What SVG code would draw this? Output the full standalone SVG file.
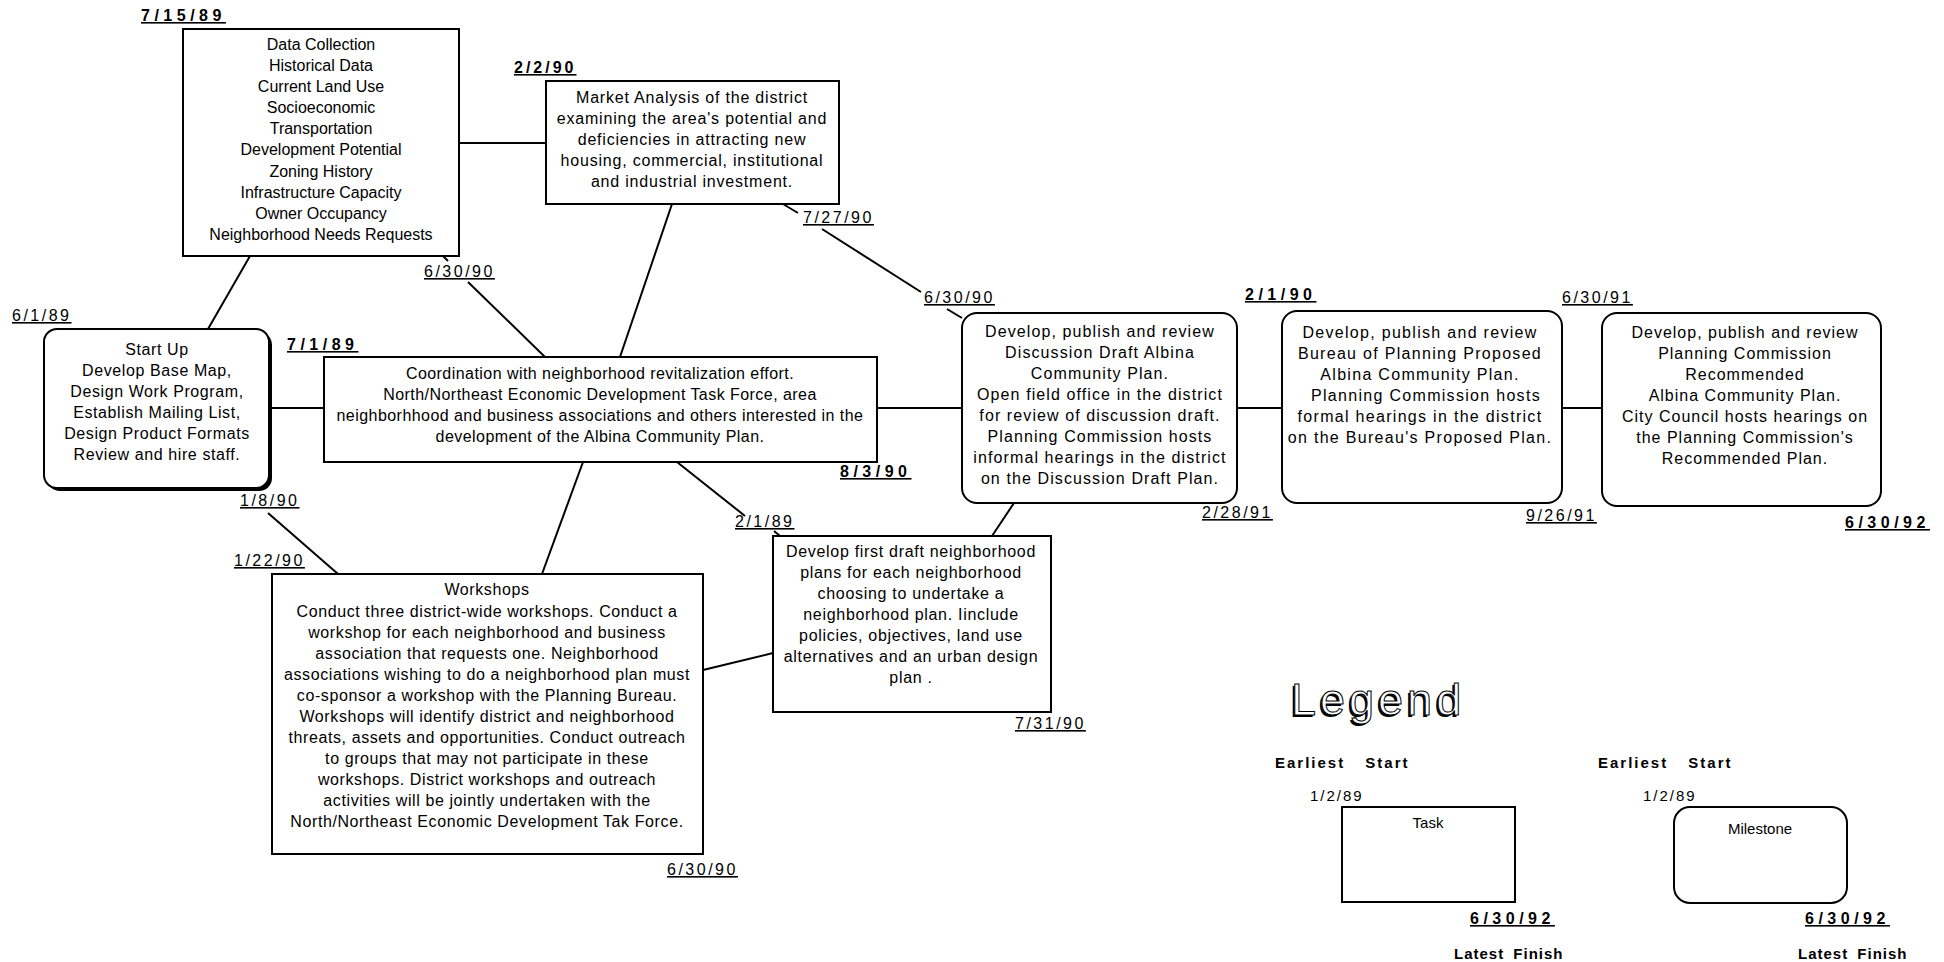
<svg xmlns="http://www.w3.org/2000/svg" width="1944" height="962" viewBox="0 0 1944 962">
<style>
.bg{fill:#fff}
.box{fill:#fff;stroke:#000;stroke-width:2}
.sh{fill:#000}
.c{stroke:#000;stroke-width:2;fill:none}
text{font-family:"Liberation Sans",Arial,Helvetica,sans-serif;fill:#000}
.t{font-size:16px;text-anchor:middle}
.d{font-size:16px;text-decoration:underline;letter-spacing:2.5px}
.db{font-size:16px;font-weight:bold;text-decoration:underline;letter-spacing:4.5px}
.lb{font-size:15px;font-weight:bold;letter-spacing:2px;word-spacing:14px}
</style>
<rect class="bg" width="1944" height="962"/>
<g id="connectors">
<line class="c" x1="459" y1="143" x2="546" y2="143"/>
<line class="c" x1="250" y1="256" x2="208" y2="329"/>
<line class="c" x1="443" y1="256" x2="448" y2="261"/>
<line class="c" x1="468" y1="282" x2="545" y2="357"/>
<line class="c" x1="672" y1="204" x2="620" y2="357"/>
<line class="c" x1="783" y1="204" x2="798" y2="213"/>
<line class="c" x1="822" y1="229" x2="921" y2="292"/>
<line class="c" x1="947" y1="309" x2="962" y2="318"/>
<line class="c" x1="269" y1="408" x2="324" y2="408"/>
<line class="c" x1="877" y1="408" x2="962" y2="408"/>
<line class="c" x1="1237" y1="408" x2="1282" y2="408"/>
<line class="c" x1="1562" y1="408" x2="1602" y2="408"/>
<line class="c" x1="268" y1="513" x2="338" y2="574"/>
<line class="c" x1="583" y1="462" x2="542" y2="574"/>
<line class="c" x1="677" y1="462" x2="745" y2="516"/>
<line class="c" x1="774" y1="531" x2="780" y2="536"/>
<line class="c" x1="703" y1="670" x2="773" y2="653"/>
<line class="c" x1="1014" y1="503" x2="992" y2="536"/>
</g>
<g id="data-collection">
<rect class="box" x="183" y="29" width="276" height="227"/>
<text class="t"><tspan x="321" y="50">Data Collection</tspan><tspan x="321" y="71">Historical Data</tspan><tspan x="321" y="92">Current Land Use</tspan><tspan x="321" y="113">Socioeconomic</tspan><tspan x="321" y="134">Transportation</tspan><tspan x="321" y="155">Development Potential</tspan><tspan x="321" y="177">Zoning History</tspan><tspan x="321" y="198">Infrastructure Capacity</tspan><tspan x="321" y="219">Owner Occupancy</tspan><tspan x="321" y="240">Neighborhood Needs Requests</tspan></text>
<text class="db" x="141" y="21">7/15/89</text>
<text class="d" x="424" y="277">6/30/90</text>
</g>
<g id="market-analysis">
<rect class="box" x="546" y="81" width="293" height="123"/>
<text class="t" style="letter-spacing:0.8px"><tspan x="692" y="103">Market Analysis of the district</tspan><tspan x="692" y="124">examining the area's potential and</tspan><tspan x="692" y="145">deficiencies in attracting new</tspan><tspan x="692" y="166">housing, commercial, institutional</tspan><tspan x="692" y="187">and industrial investment.</tspan></text>
<text class="db" x="514" y="73" style="letter-spacing:3px">2/2/90</text>
<text class="d" x="803" y="223">7/27/90</text>
</g>
<g id="start-up">
<rect class="sh" x="47" y="332" width="225" height="159" rx="13"/>
<rect class="box" x="44" y="329" width="225" height="159" rx="13"/>
<text class="t" style="letter-spacing:0.6px"><tspan x="157" y="355">Start Up</tspan><tspan x="157" y="376">Develop Base Map,</tspan><tspan x="157" y="397">Design Work Program,</tspan><tspan x="157" y="418">Establish Mailing List,</tspan><tspan x="157" y="439">Design Product Formats</tspan><tspan x="157" y="460">Review and hire staff.</tspan></text>
<text class="d" x="12" y="321">6/1/89</text>
<text class="d" x="240" y="506">1/8/90</text>
</g>
<g id="coordination">
<rect class="box" x="324" y="357" width="553" height="105"/>
<text class="t" style="letter-spacing:0.45px"><tspan x="600" y="379">Coordination with neighborhood revitalization effort.</tspan><tspan x="600" y="400">North/Northeast Economic Development Task Force, area</tspan><tspan x="600" y="421">neighborhhood and business associations and others interested in the</tspan><tspan x="600" y="442">development of the Albina Community Plan.</tspan></text>
<text class="db" x="287" y="350">7/1/89</text>
<text class="db" x="840" y="477">8/3/90</text>
</g>
<g id="discussion-draft">
<rect class="box" x="962" y="313" width="275" height="190" rx="15"/>
<text class="t" style="letter-spacing:1.1px"><tspan x="1100" y="337">Develop, publish and review</tspan><tspan x="1100" y="358">Discussion Draft Albina</tspan><tspan x="1100" y="379">Community Plan.</tspan><tspan x="1100" y="400">Open field office in the district</tspan><tspan x="1100" y="421">for review of discussion draft.</tspan><tspan x="1100" y="442">Planning Commission hosts</tspan><tspan x="1100" y="463">informal hearings in the district</tspan><tspan x="1100" y="484">on the Discussion Draft Plan.</tspan></text>
<text class="d" x="924" y="303">6/30/90</text>
<text class="d" x="1202" y="518">2/28/91</text>
</g>
<g id="bureau-proposed">
<rect class="box" x="1282" y="311" width="280" height="192" rx="15"/>
<text class="t" style="letter-spacing:1.3px"><tspan x="1420" y="338">Develop, publish and review</tspan><tspan x="1420" y="359">Bureau of Planning Proposed</tspan><tspan x="1420" y="380">Albina Community Plan.</tspan><tspan x="1426" y="401">Planning Commission hosts</tspan><tspan x="1420" y="422">formal hearings in the district</tspan><tspan x="1420" y="443">on the Bureau's Proposed Plan.</tspan></text>
<text class="db" x="1245" y="300">2/1/90</text>
<text class="d" x="1526" y="521">9/26/91</text>
</g>
<g id="planning-commission">
<rect class="box" x="1602" y="313" width="279" height="193" rx="15"/>
<text class="t" style="letter-spacing:1px"><tspan x="1745" y="338">Develop, publish and review</tspan><tspan x="1745" y="359">Planning Commission</tspan><tspan x="1745" y="380">Recommended</tspan><tspan x="1745" y="401">Albina Community Plan.</tspan><tspan x="1745" y="422">City Council hosts hearings on</tspan><tspan x="1745" y="443">the Planning Commission's</tspan><tspan x="1745" y="464">Recommended Plan.</tspan></text>
<text class="d" x="1562" y="303">6/30/91</text>
<text class="db" x="1845" y="528">6/30/92</text>
</g>
<g id="workshops">
<rect class="box" x="272" y="574" width="431" height="280"/>
<text class="t" style="letter-spacing:0.6px"><tspan x="487" y="595">Workshops</tspan><tspan x="487" y="617">Conduct three district-wide workshops.  Conduct a</tspan><tspan x="487" y="638">workshop for each neighborhood and business</tspan><tspan x="487" y="659">association that requests one.  Neighborhood</tspan><tspan x="487" y="680">associations wishing to do a neighborhood plan must</tspan><tspan x="487" y="701">co-sponsor a workshop with the Planning Bureau.</tspan><tspan x="487" y="722">Workshops will identify district and neighborhood</tspan><tspan x="487" y="743">threats, assets and opportunities.  Conduct outreach</tspan><tspan x="487" y="764">to groups that may not participate in these</tspan><tspan x="487" y="785">workshops.  District workshops and outreach</tspan><tspan x="487" y="806">activities will be jointly undertaken with the</tspan><tspan x="487" y="827">North/Northeast Economic Development Tak Force.</tspan></text>
<text class="d" x="234" y="566">1/22/90</text>
<text class="d" x="667" y="875">6/30/90</text>
</g>
<g id="first-draft">
<rect class="box" x="773" y="536" width="278" height="176"/>
<text class="t" style="letter-spacing:0.7px"><tspan x="911" y="557">Develop first draft neighborhood</tspan><tspan x="911" y="578">plans for each neighborhood</tspan><tspan x="911" y="599">choosing to undertake a</tspan><tspan x="911" y="620">neighborhood plan.  Iinclude</tspan><tspan x="911" y="641">policies, objectives, land use</tspan><tspan x="911" y="662">alternatives and an urban design</tspan><tspan x="911" y="683">plan .</tspan></text>
<text class="d" x="735" y="527">2/1/89</text>
<text class="d" x="1015" y="729">7/31/90</text>
</g>
<g id="legend">
<text x="1289" y="717" style="font-size:45px;letter-spacing:4px;fill:#000">Legend</text>
<text x="1291" y="715" style="font-size:45px;letter-spacing:4px;fill:#fff;stroke:#000;stroke-width:1">Legend</text>
<text class="lb" x="1275" y="768">Earliest Start</text>
<text x="1310" y="801" style="font-size:15px;letter-spacing:2px">1/2/89</text>
<rect class="box" x="1342" y="807" width="173" height="95"/>
<text class="t" x="1428" y="828" style="font-size:15px">Task</text>
<text class="db" x="1470" y="924">6/30/92</text>
<text class="lb" x="1454" y="959" style="word-spacing:4px;letter-spacing:1px">Latest Finish</text>
<text class="lb" x="1598" y="768">Earliest Start</text>
<text x="1643" y="801" style="font-size:15px;letter-spacing:2px">1/2/89</text>
<rect class="box" x="1674" y="807" width="173" height="96" rx="16"/>
<text class="t" x="1760" y="834" style="font-size:15px">Milestone</text>
<text class="db" x="1805" y="924">6/30/92</text>
<text class="lb" x="1798" y="959" style="word-spacing:4px;letter-spacing:1px">Latest Finish</text>
</g>
</svg>
